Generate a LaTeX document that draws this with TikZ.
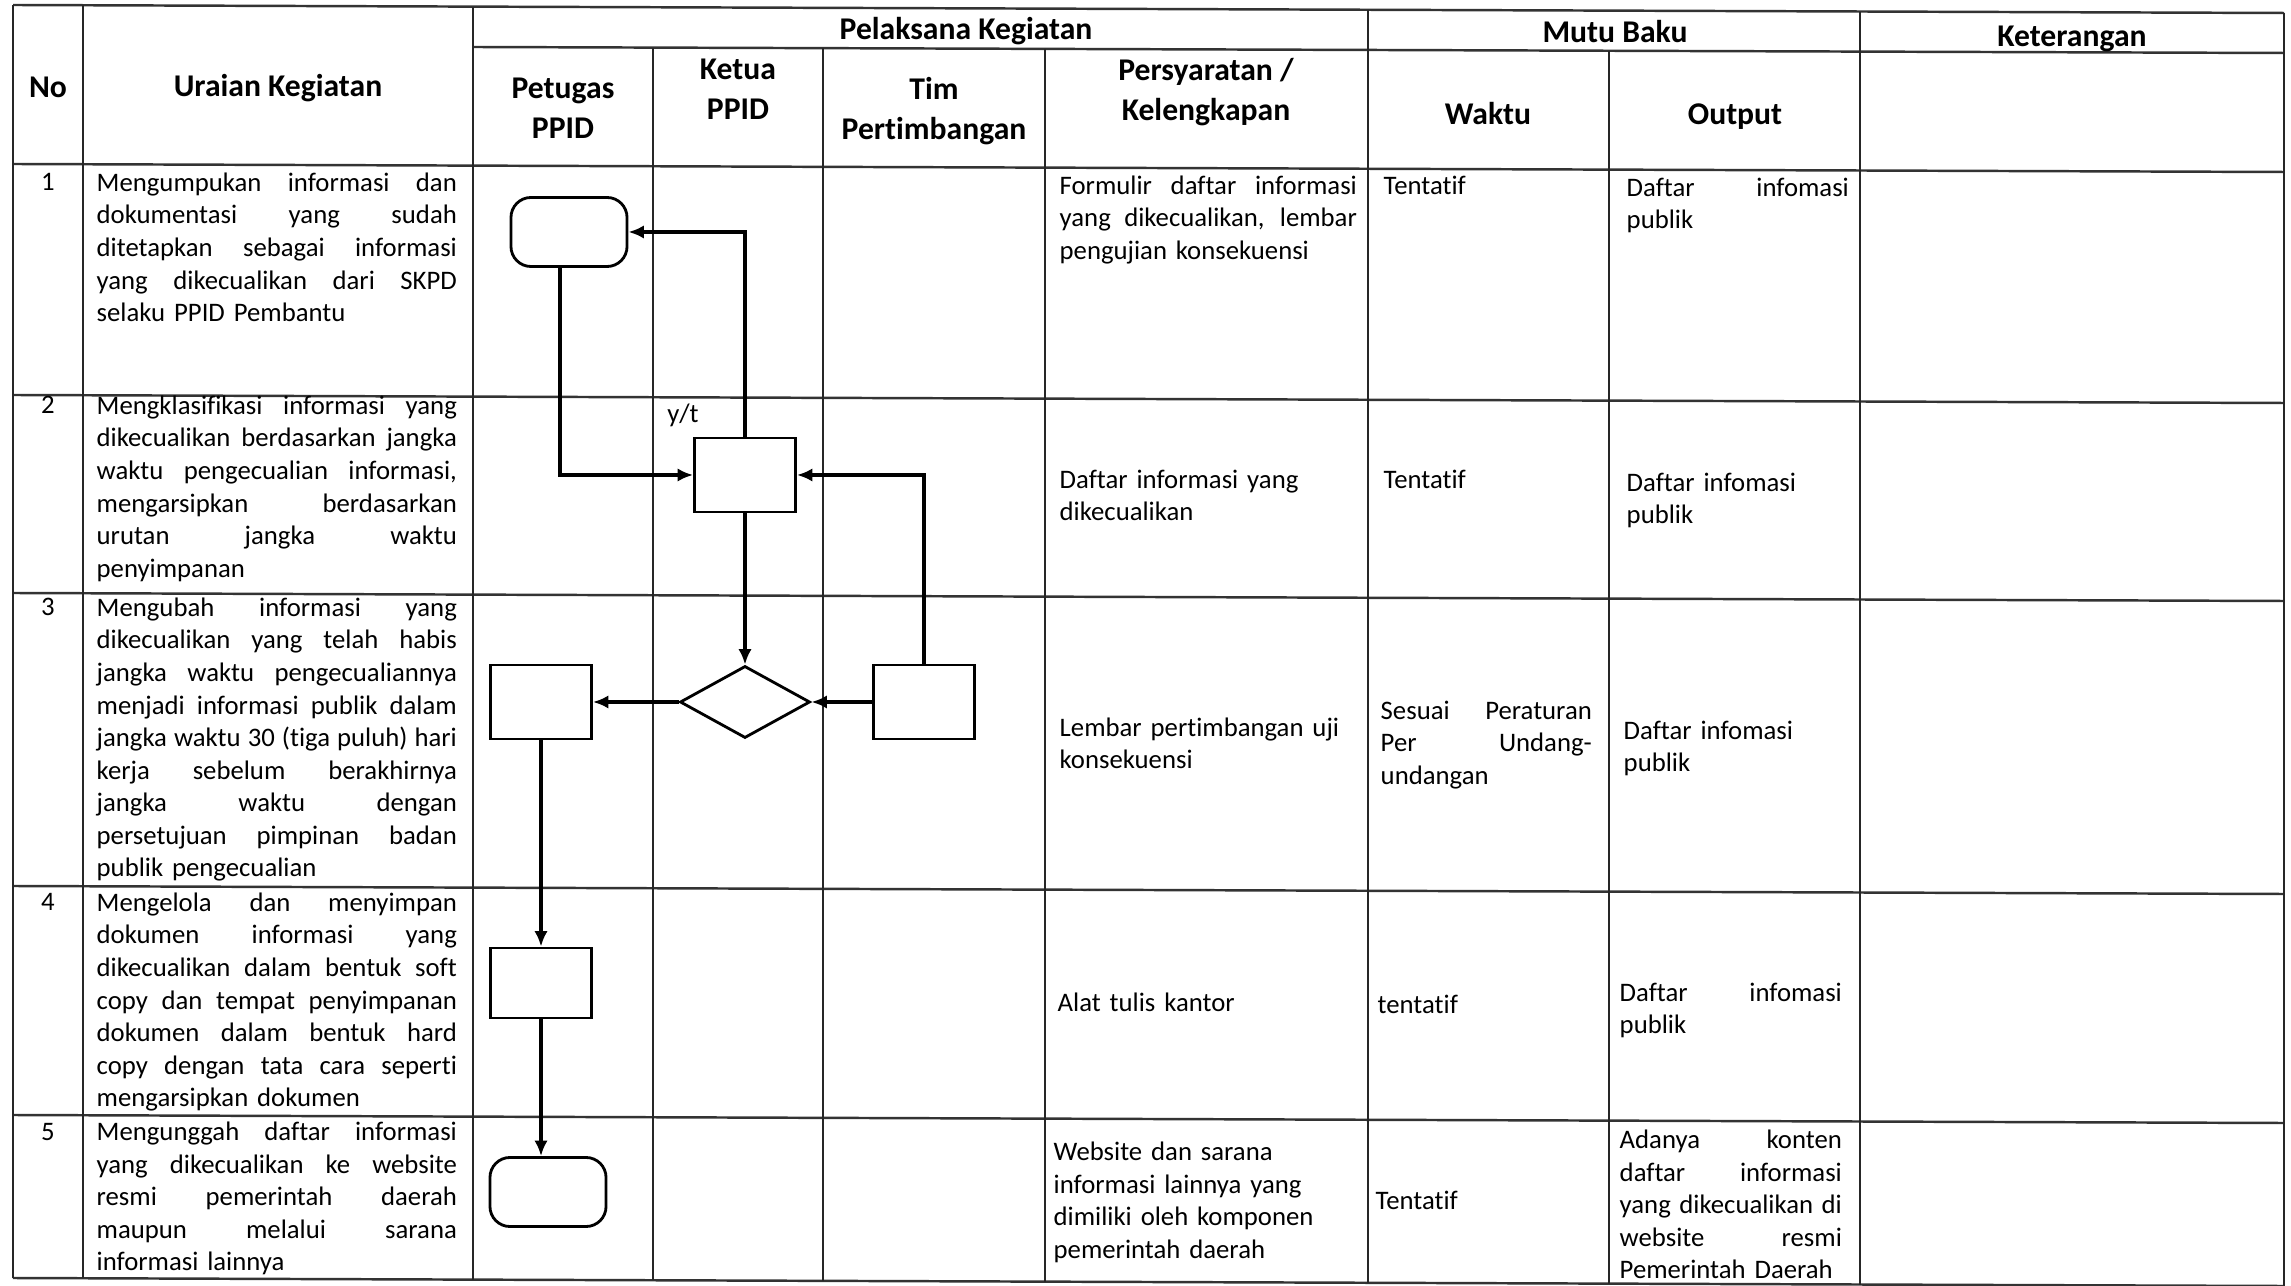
\documentclass[tikz,border=0pt]{standalone}
\usepackage{fontspec}
\setmainfont{Carlito}[Ligatures=NoCommon]
\usetikzlibrary{arrows.meta,shapes.geometric}
\newlength{\cellw}
\newcommand{\W}[1]{\setlength{\cellw}{#1}\leavevmode\strut}
\newcommand{\J}[1]{\leavevmode\hbox to\cellw{\spaceskip=0.226em plus 1fil minus 0.07em\relax #1}\\}
\begin{document}
\begin{tikzpicture}[x=0.01cm,y=-0.01cm,
  grid/.style={line width=0.55pt,black!85},
  hline/.style={line width=0.7pt,black!80},
  hd/.style={font=\fontsize{9}{11.4}\selectfont\bfseries,inner sep=0pt},
  hdm/.style={hd,anchor=north,align=center},
  txt/.style={font=\fontsize{7.6}{9.25}\selectfont,inner sep=0pt,anchor=north west,align=left,text width=#1},
  num/.style={font=\fontsize{7.6}{9.25}\selectfont,inner sep=0pt,anchor=base},
  shp/.style={draw,line width=0.8pt,inner sep=0pt},
  proc/.style={shp,rectangle,minimum width=1.01cm,minimum height=0.74cm},
  term/.style={shp,rectangle,rounded corners=0.2cm,minimum width=1.16cm,minimum height=0.69cm},
  dec/.style={shp,diamond,minimum width=1.30cm,minimum height=0.72cm},
  flow/.style={line width=0.9pt,-{Latex[length=4.4pt,width=3.8pt]}},
]
\fill[white] (0,0) rectangle (2291,1286);
\useasboundingbox (0,0) rectangle (2291,1286);

% horizontal rules
\draw[hline] (13,5) -- (2284,13);
\draw[hline] (473,47) -- (2284,53);
\draw[hline] (13,164) -- (2284,172);
\draw[hline] (13,395) -- (2284,403);
\draw[hline] (13,593) -- (2284,601);
\draw[hline] (13,886) -- (2284,894);
\draw[hline] (13,1115) -- (2284,1123);
\draw[hline] (13,1278) -- (2284,1286);
% vertical rules
\draw[grid] (13,5) -- (13,1278);
\draw[grid] (83,5) -- (83,1278);
\draw[grid] (473,7) -- (473,1280);
\draw[grid] (653,48) -- (653,1280);
\draw[grid] (823,48) -- (823,1281);
\draw[grid] (1045,49) -- (1045,1282);
\draw[grid] (1368,10) -- (1368,1283);
\draw[grid] (1609,51) -- (1609,1284);
\draw[grid] (1860,12) -- (1860,1285);
\draw[grid] (2284,13) -- (2284,1286);

% header
\node[hd,anchor=base] (hNo) at (48,98) {No};
\node[hd,anchor=base] (hUr) at (278,97) {Uraian Kegiatan};
\node[hd,anchor=base] (hPel) at (966,40) {Pelaksana Kegiatan};
\node[hd,anchor=base] (hMutu) at (1615,43) {Mutu Baku};
\node[hd,anchor=base] (hKet) at (2072,47) {Keterangan};
\node[hdm] (hPet) at (563,70) {\strut Petugas\\PPID};
\node[hdm] (hKetua) at (738,51) {\strut Ketua\\PPID};
\node[hdm] (hTim) at (934,71) {\strut Tim\\Pertimbangan};
\node[hdm] (hPers) at (1206,52) {\strut Persyaratan /\\Kelengkapan};
\node[hd,anchor=base] (hWak) at (1488,125) {Waktu};
\node[hd,anchor=base] (hOut) at (1735,125) {Output};

% numbers
\node[num] (n1) at (48,191) {1};
\node[num] (n2) at (48,414) {2};
\node[num] (n3) at (48,616) {3};
\node[num] (n4) at (48,911) {4};
\node[num] (n5) at (48,1140) {5};

% uraian
\node[txt=3.6cm] (u1) at (96,168) {\W{3.6cm}\J{Mengumpukan informasi dan}\J{dokumentasi yang sudah}\J{ditetapkan sebagai informasi}\J{yang dikecualikan dari SKPD}selaku PPID Pembantu};
\node[txt=3.6cm] (u2) at (96,391) {\W{3.6cm}\J{Mengklasifikasi informasi yang}\J{dikecualikan berdasarkan jangka}\J{waktu pengecualian informasi,}\J{mengarsipkan berdasarkan}\J{urutan jangka waktu}penyimpanan};
\node[txt=3.6cm] (u3) at (96,593) {\W{3.6cm}\J{Mengubah informasi yang}\J{dikecualikan yang telah habis}\J{jangka waktu pengecualiannya}\J{menjadi informasi publik dalam}\J{jangka waktu 30 (tiga puluh) hari}\J{kerja sebelum berakhirnya}\J{jangka waktu dengan}\J{persetujuan pimpinan badan}publik pengecualian};
\node[txt=3.6cm] (u4) at (96,888) {\W{3.6cm}\J{Mengelola dan menyimpan}\J{dokumen informasi yang}\J{dikecualikan dalam bentuk soft}\J{copy dan tempat penyimpanan}\J{dokumen dalam bentuk hard}\J{copy dengan tata cara seperti}mengarsipkan dokumen};
\node[txt=3.6cm] (u5) at (96,1117) {\W{3.6cm}\J{Mengunggah daftar informasi}\J{yang dikecualikan ke website}\J{resmi pemerintah daerah}\J{maupun melalui sarana}informasi lainnya};

% persyaratan
\node[txt=2.97cm] (p1) at (1059,171) {\W{2.97cm}\J{Formulir daftar informasi}\J{yang dikecualikan, lembar}pengujian konsekuensi};
\node[txt=2.97cm] (p2) at (1059,465) {\strut Daftar informasi yang\\dikecualikan};
\node[txt=2.97cm] (p3) at (1059,713) {\strut Lembar pertimbangan uji\\konsekuensi};
\node[txt=2.97cm] (p4) at (1057,988) {\strut Alat tulis kantor};
\node[txt=2.97cm] (p5) at (1053,1137) {\strut Website dan sarana\\informasi lainnya yang\\dimiliki oleh komponen\\pemerintah daerah};

% waktu
\node[txt=2.11cm] (w1) at (1383,171) {\strut Tentatif};
\node[txt=2.11cm] (w2) at (1383,465) {\strut Tentatif};
\node[txt=2.11cm] (w3) at (1380,696) {\W{2.11cm}\J{Sesuai Peraturan}\J{Per Undang-}undangan};
\node[txt=2.11cm] (w4) at (1377,990) {\strut tentatif};
\node[txt=2.11cm] (w5) at (1375,1186) {\strut Tentatif};

% output
\node[txt=2.22cm] (o1) at (1626,173) {\W{2.22cm}\J{Daftar infomasi}publik};
\node[txt=2.22cm] (o2) at (1626,468) {\strut Daftar infomasi\\publik};
\node[txt=2.22cm] (o3) at (1623,716) {\strut Daftar infomasi\\publik};
\node[txt=2.22cm] (o4) at (1619,978) {\W{2.22cm}\J{Daftar infomasi}publik};
\node[txt=2.22cm] (o5) at (1619,1125) {\W{2.22cm}\J{Adanya konten}\J{daftar informasi}\J{yang dikecualikan di}\J{website resmi}Pemerintah Daerah};

% flowchart shapes
\node[term] (t1) at (569,232) {};
\node[proc] (b2) at (745,475) {};
\node[dec] (d3) at (745,702) {};
\node[proc] (b3l) at (541,702) {};
\node[proc] (b3r) at (924,702) {};
\node[proc,minimum height=0.70cm] (b4) at (541,983) {};
\node[term] (t5) at (548,1192) {};
\node[font=\fontsize{7.6}{9.25}\selectfont,inner sep=0pt] (yt) at (683,415) {y/t};

% connectors
\draw[flow] ([xshift=-0.09cm]t1.south) |- (b2.west);
\draw[flow] (b2.north) |- (t1.east);
\draw[flow] (b2.south) -- (d3.north);
\draw[flow] (b3r.north) |- (b2.east);
\draw[flow] (b3r.west) -- (d3.east);
\draw[flow] (d3.west) -- (b3l.east);
\draw[flow] (b3l.south) -- (b4.north);
\draw[flow] (b4.south) -- (b4.south |- t5.north);
\end{tikzpicture}
\end{document}
